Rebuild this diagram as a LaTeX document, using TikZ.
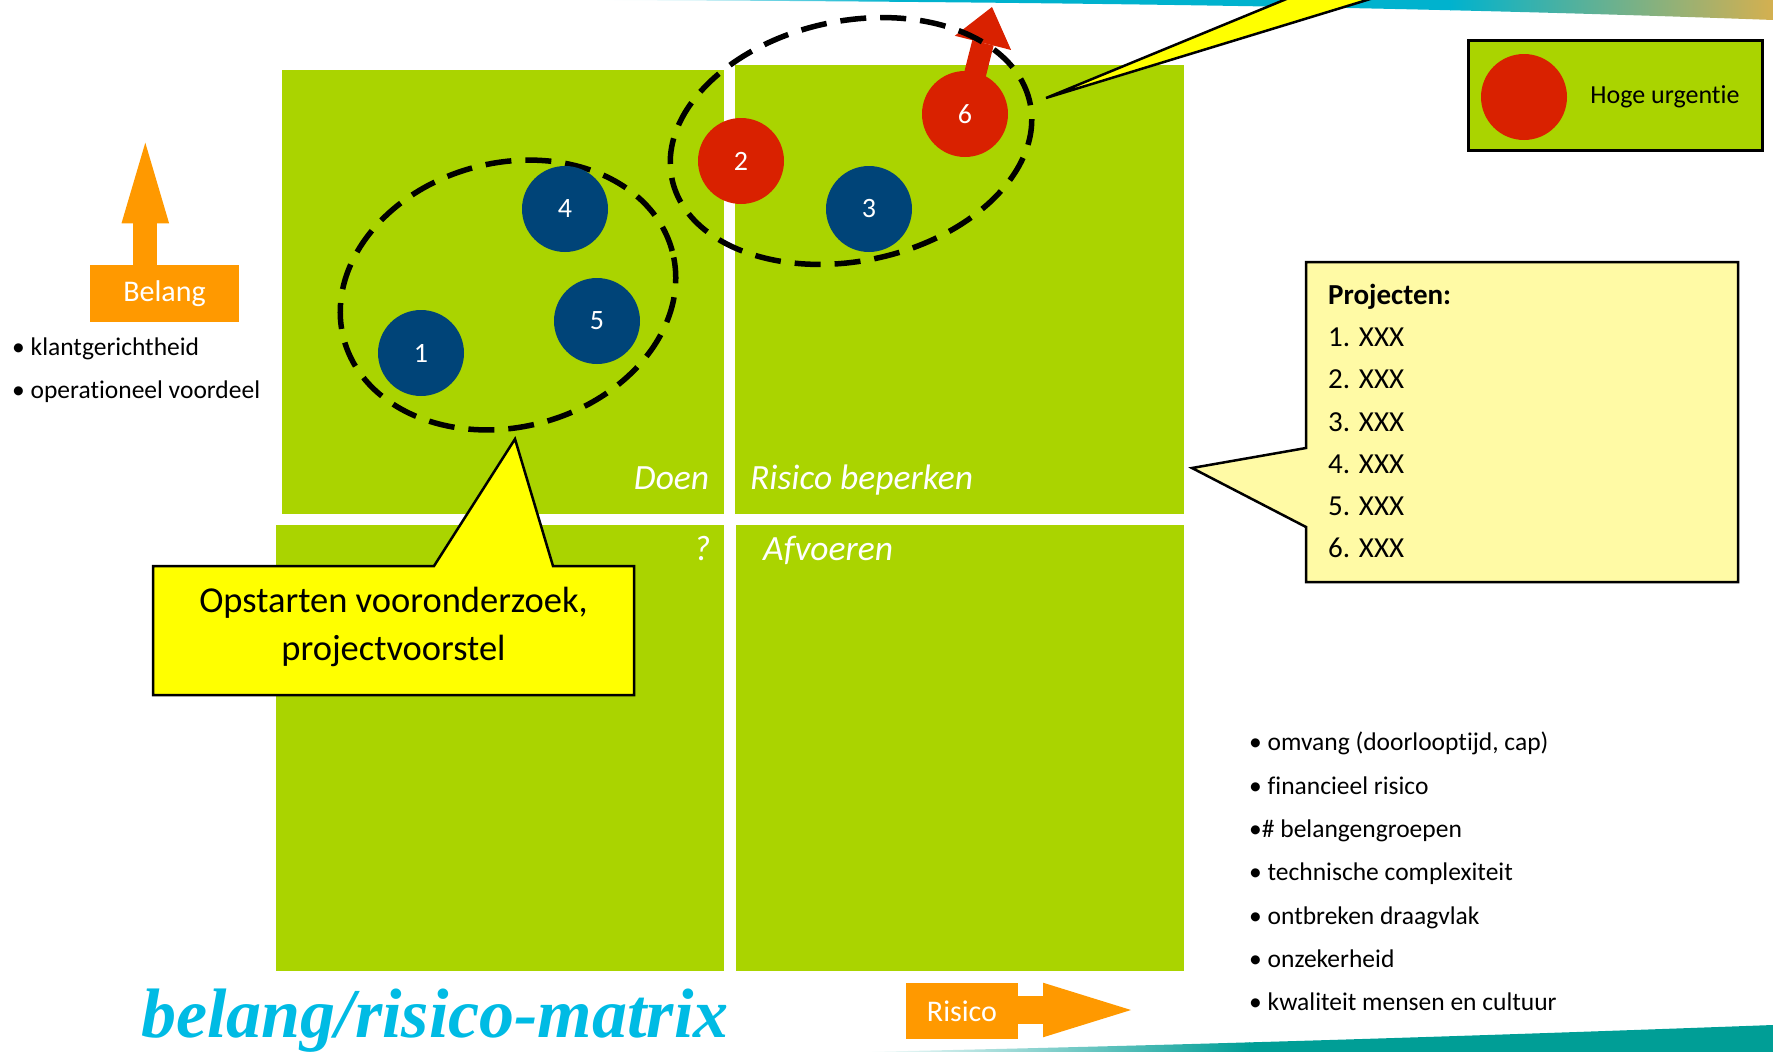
\documentclass[tikz,border=0pt]{standalone}
\usepackage{fontspec}
\setmainfont{Carlito}[Ligatures=NoCommon]
\newfontfamily\titlefont{Liberation Serif}
\usetikzlibrary{positioning,shapes.geometric,arrows.meta,calc}

\definecolor{quadgreen}{RGB}{170,212,0}
\definecolor{dotblue}{RGB}{0,68,120}
\definecolor{dotred}{RGB}{217,33,0}
\definecolor{axisorange}{RGB}{255,153,0}
\definecolor{calloutyellow}{RGB}{255,255,0}
\definecolor{notepaper}{RGB}{255,250,165}
\definecolor{titlecyan}{RGB}{0,187,228}
\definecolor{bandcyan}{RGB}{0,178,206}
\definecolor{bandgold}{RGB}{212,176,80}
\definecolor{bandteal}{RGB}{0,158,150}

\tikzset{
    quad/.style = {fill=quadgreen, inner sep=0pt, anchor=north west},
    quad-label/.style = {text=white, font=\fontsize{35.5}{40}\selectfont\itshape, inner sep=0pt},
    project/.style = {circle, fill=dotblue, minimum size=86pt, inner sep=0pt, text=white, font=\fontsize{28}{30}\selectfont},
    urgent/.style = {project, fill=dotred},
    group-ring/.style = {ellipse, draw=black, line width=5.5pt, dash pattern=on 26pt off 14pt, inner sep=0pt},
    axis-box/.style = {fill=axisorange, text=white, inner sep=0pt, font=\fontsize{30}{32}\selectfont},
    axis-arrow/.style = {draw=axisorange, line width=24pt},
    callout/.style = {fill=calloutyellow, draw=black, line width=2.5pt},
    note/.style = {fill=notepaper, draw=black, line width=2.5pt},
    crit/.style = {inner sep=0pt, align=left, font=\fontsize{25.5}{43.3}\selectfont},
}

\begin{document}
\begin{tikzpicture}[x=1pt, y=-1pt]
\useasboundingbox (0,0) rectangle (1773,1052);
\clip (0,0) rectangle (1773,1052);

% swooshes top and bottom
\begin{scope}
    \clip (600,0) .. controls (1100,2) and (1450,8) .. (1773,20) -- (1773,-5) -- (600,-5) -- cycle;
    \shade[left color=white, right color=bandcyan] (600,-5) rectangle (900,25);
    \fill[bandcyan] (899,-5) rectangle (1451,25);
    \shade[left color=bandcyan, right color=bandgold] (1450,-5) rectangle (1773,25);
\end{scope}
\begin{scope}
    \clip (860,1052) .. controls (1200,1045) and (1500,1035) .. (1773,1025) -- (1773,1057) -- (860,1057) -- cycle;
    \shade[left color=white, right color=bandteal] (860,1020) rectangle (1250,1060);
    \fill[bandteal] (1249,1020) rectangle (1773,1060);
\end{scope}

% matrix
\node[quad, minimum width=442pt, minimum height=444pt] (doen) at (282,70) {};
\node[quad, minimum width=449pt, minimum height=449pt] (beperken) at (735,65) {};
\node[quad, minimum width=448pt, minimum height=446pt] (vraag) at (276,525) {};
\node[quad, minimum width=448pt, minimum height=446pt] (afvoeren) at (736,525) {};
\node[quad-label, anchor=base east] (doen-lbl) at ([xshift=-15pt, yshift=25pt]doen.south east) {Doen};
\node[quad-label, anchor=base west] (beperken-lbl) at ([xshift=15pt, yshift=25pt]beperken.south west) {Risico beperken};
\node[quad-label, anchor=base east] (vraag-lbl) at ([xshift=-14pt, yshift=-35pt]vraag.north east) {?};
\node[quad-label, anchor=base west] (afvoeren-lbl) at ([xshift=27pt, yshift=-35pt]afvoeren.north west) {Afvoeren};

% urgency arrow of project 6
\coordinate (p6pos) at (965,114);
\coordinate (p6tip) at (992,7);
\draw[draw=dotred, line width=22pt, -{Triangle[width=58pt, length=37pt, line width=0pt]}] (p6pos) -- (p6tip);

% groups
\node[group-ring, minimum width=340pt, minimum height=264pt, rotate=15] (doen-grp) at (508,295) {};
\node[group-ring, minimum width=366pt, minimum height=240pt, rotate=12] (beperken-grp) at (851,141) {};

% projects
\node[project] (p1) at (421,353) {1};
\node[urgent] (p2) at (741,161) {2};
\node[project] (p3) at (869,209) {3};
\node[project] (p4) at (565,209) {4};
\node[project] (p5) at (597,321) {5};
\node[urgent] (p6) at (p6pos) {6};

% legend
\node[quad, draw=black, line width=3pt, minimum width=294pt, minimum height=110pt] (legend) at (1467,39) {};
\node[urgent] (leg-dot) at (1524,97) {};
\node[right=23pt of leg-dot, inner sep=0pt, font=\fontsize{26}{30}\selectfont] (leg-text) {Hoge urgentie};

% axes
\node[axis-box, minimum width=149pt, minimum height=57pt] (belang) at (164.5,293.5) {Belang};
\coordinate (belang-tip) at (145.3,142.7);
\draw[axis-arrow, -{Triangle[width=47.6pt, length=80.6pt, line width=0pt]}] (belang.north -| belang-tip) -- (belang-tip);
\node[axis-box, minimum width=112pt, minimum height=56pt] (risico) at (962,1011) {Risico};
\coordinate (risico-tip) at (1131,1010);
\draw[axis-arrow, line width=28pt, -{Triangle[width=54.6pt, length=88pt, line width=0pt]}] (risico.east |- risico-tip) -- (risico-tip);

\node[crit, anchor=base west] (belang-crit) at (12,355) {\textbullet\ klantgerichtheid};
\node[crit, anchor=base west] (belang-crit2) at (12,398) {\textbullet\ operationeel voordeel};
\node[crit, anchor=north west] (risico-crit) at (1249,732) {\textbullet\ omvang (doorlooptijd, cap)\\
    \textbullet\ financieel risico\\
    \textbullet\#\ belangengroepen\\
    \textbullet\ technische complexiteit\\
    \textbullet\ ontbreken draagvlak\\
    \textbullet\ onzekerheid\\
    \textbullet\ kwaliteit mensen en cultuur};

% callouts
\coordinate (op-tip) at (515,439);
\draw[callout] (153,566) -- (434,566) -- (op-tip) -- (553,566) -- (634,566) -- (634,695) -- (153,695) -- cycle;
\node[inner sep=0pt, align=center, font=\fontsize{36.5}{48}\selectfont] (opstart) at (393.5,627) {Opstarten vooronderzoek,\\projectvoorstel};

\coordinate (pr-tip) at (1192,468);
\draw[note] (1306,262) -- (1738,262) -- (1738,582) -- (1306,582) -- (1306,527) -- (pr-tip) -- (1306,448) -- cycle;
\node[crit, anchor=north west, font=\fontsize{29}{42.2}\selectfont] (projecten) at (1328,284) {\textbf{Projecten:}\\1. XXX\\2. XXX\\3. XXX\\4. XXX\\5. XXX\\6. XXX};

\coordinate (top-tip) at (1046,98);
\draw[callout] (top-tip) -- ($(top-tip)!1.6!(1284,0)$) -- ($(top-tip)!1.6!(1367,0)$) -- cycle;

% title
\node[inner sep=0pt, anchor=base west, text=titlecyan, font=\titlefont\bfseries\itshape\fontsize{70}{80}\selectfont] (title) at (141,1037) {belang/risico-matrix};
\end{tikzpicture}
\end{document}
